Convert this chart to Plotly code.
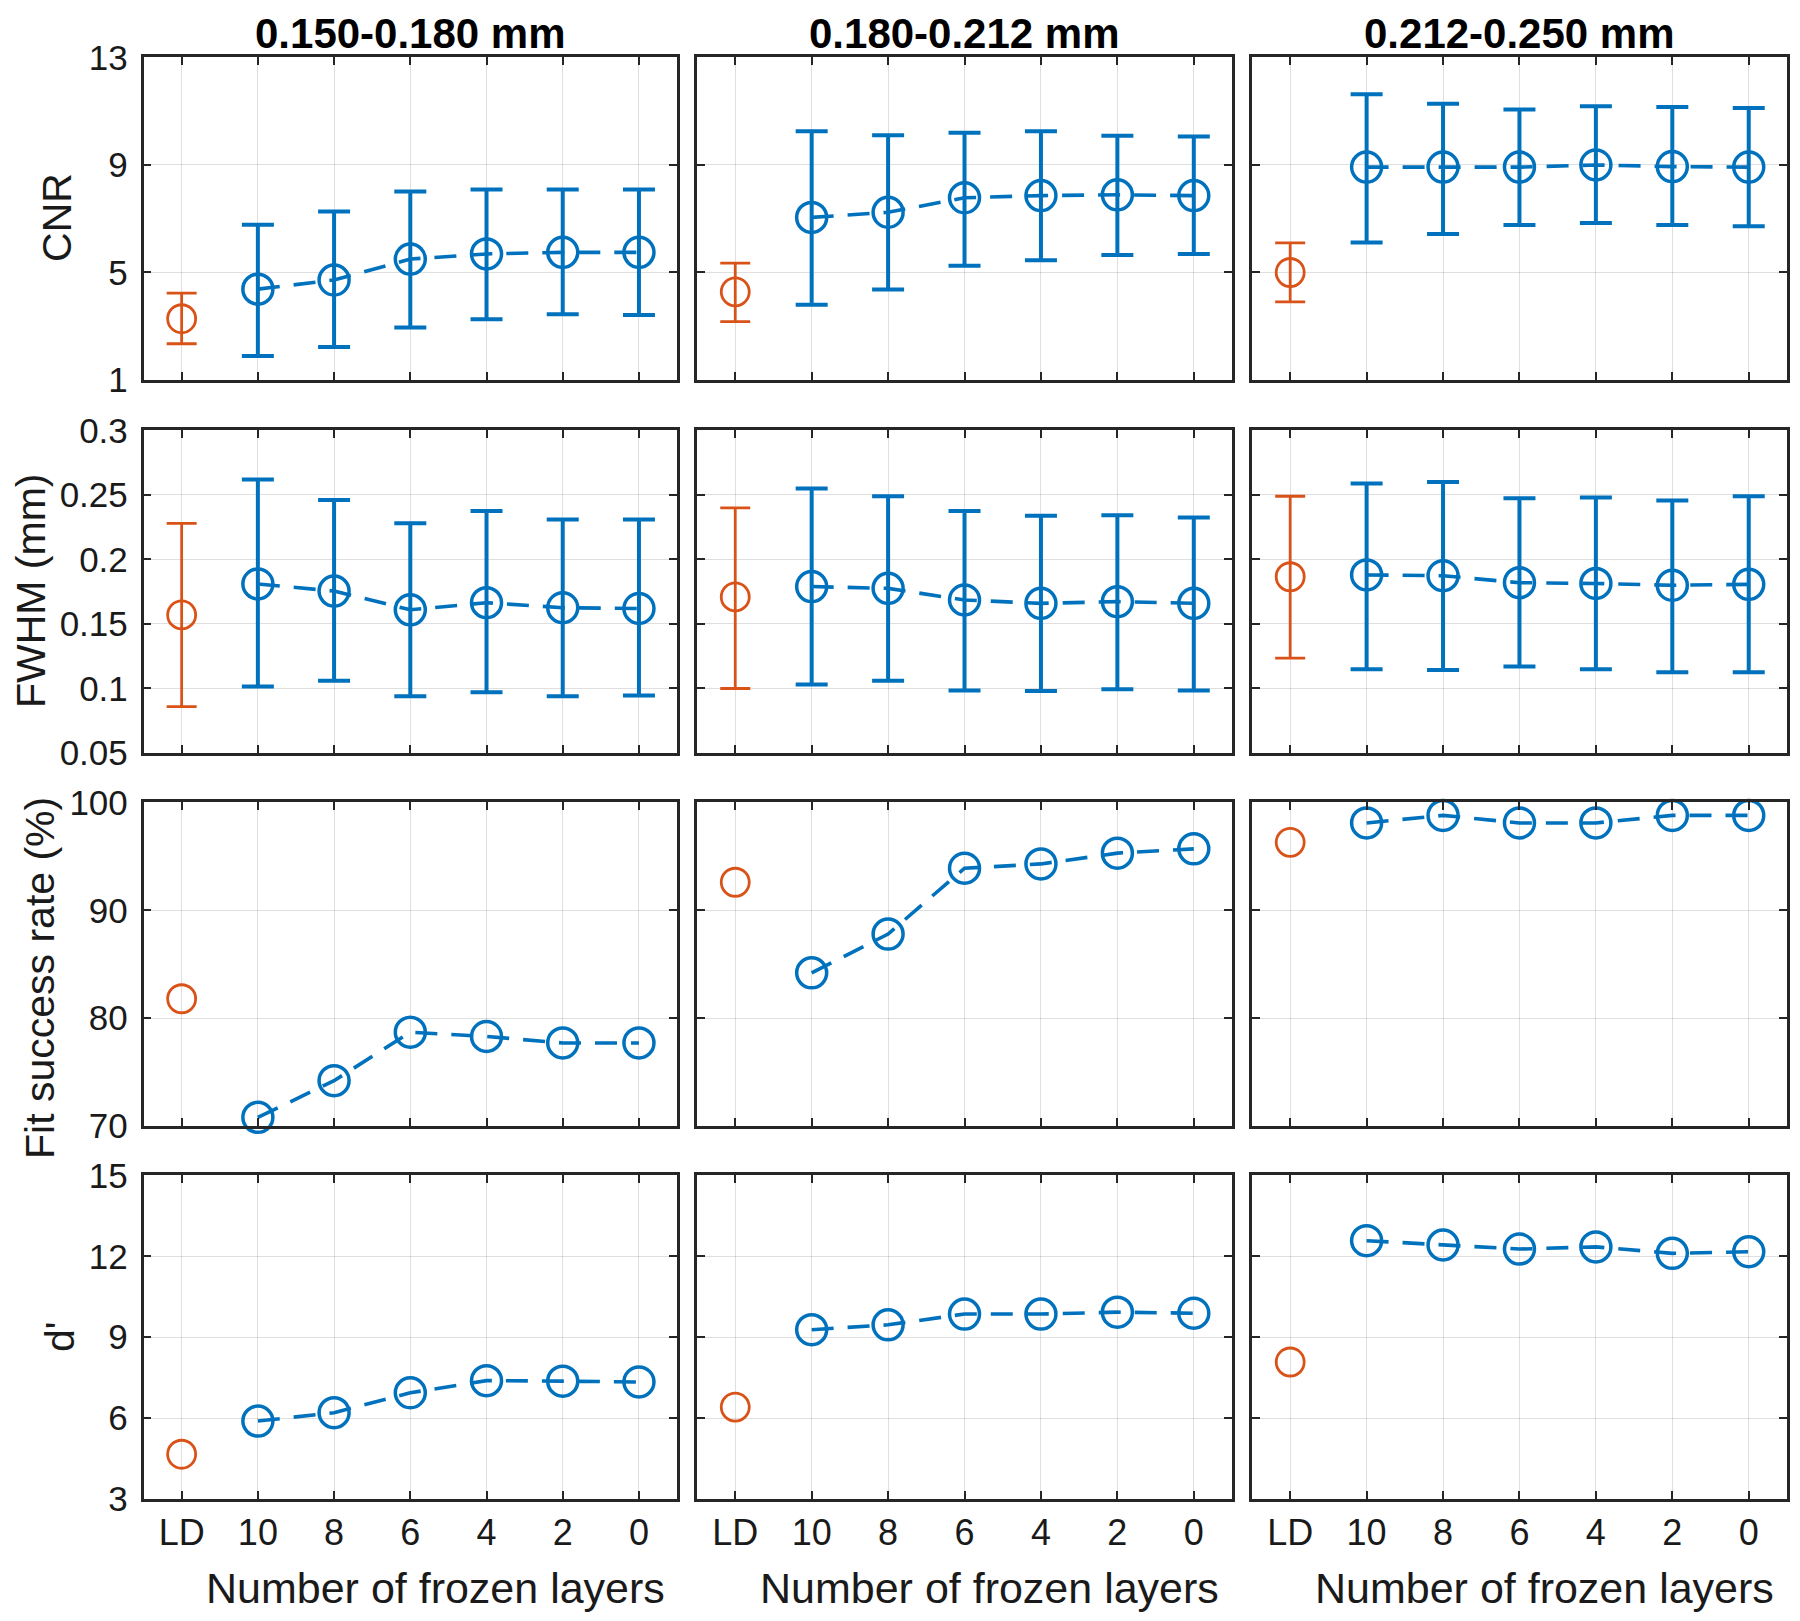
import plotly.graph_objects as go

# ---------------- data ----------------
categories = ["LD", "10", "8", "6", "4", "2", "0"]
col_titles = ["0.150-0.180 mm", "0.180-0.212 mm", "0.212-0.250 mm"]
row_labels = ["CNR", "FWHM (mm)", "Fit success rate (%)", "d'"]

# CNR: mean / upper / lower, per particle-size column (LD first)
cnr_mean_c1 = [3.28, 4.38, 4.72, 5.50, 5.69, 5.75, 5.75]
cnr_hi_c1 = [4.23, 6.78, 7.27, 8.01, 8.09, 8.09, 8.09]
cnr_lo_c1 = [2.35, 1.89, 2.23, 2.95, 3.26, 3.45, 3.42]
cnr_mean_c2 = [4.28, 7.05, 7.24, 7.78, 7.86, 7.89, 7.86]
cnr_hi_c2 = [5.35, 10.25, 10.11, 10.20, 10.25, 10.09, 10.06]
cnr_lo_c2 = [3.17, 3.80, 4.37, 5.25, 5.46, 5.65, 5.69]
cnr_mean_c3 = [5.00, 8.92, 8.92, 8.92, 9.00, 8.94, 8.92]
cnr_hi_c3 = [6.10, 11.63, 11.28, 11.06, 11.18, 11.16, 11.12]
cnr_lo_c3 = [3.91, 6.12, 6.43, 6.77, 6.84, 6.77, 6.72]

# FWHM (mm)
fwhm_mean_c1 = [0.157, 0.181, 0.1755, 0.161, 0.1665, 0.1626, 0.162]
fwhm_hi_c1 = [0.228, 0.262, 0.246, 0.228, 0.2376, 0.231, 0.231]
fwhm_lo_c1 = [0.086, 0.1015, 0.106, 0.094, 0.097, 0.094, 0.0946]
fwhm_mean_c2 = [0.171, 0.179, 0.1776, 0.1686, 0.166, 0.1673, 0.166]
fwhm_hi_c2 = [0.240, 0.255, 0.249, 0.2376, 0.2338, 0.2343, 0.2325]
fwhm_lo_c2 = [0.100, 0.103, 0.106, 0.0985, 0.098, 0.0995, 0.0985]
fwhm_mean_c3 = [0.1866, 0.188, 0.1874, 0.182, 0.1814, 0.180, 0.1807]
fwhm_hi_c3 = [0.249, 0.2588, 0.260, 0.2474, 0.248, 0.2456, 0.249]
fwhm_lo_c3 = [0.1235, 0.115, 0.1144, 0.117, 0.115, 0.1126, 0.1126]

# Fit success rate (%)
fit_c1 = [81.8, 70.8, 74.2, 78.7, 78.3, 77.7, 77.7]
fit_c2 = [92.6, 84.2, 87.8, 93.9, 94.3, 95.3, 95.7]
fit_c3 = [96.3, 98.1, 98.8, 98.1, 98.1, 98.8, 98.8]

# d'
dp_c1 = [4.66, 5.89, 6.20, 6.94, 7.39, 7.37, 7.34]
dp_c2 = [6.41, 9.28, 9.46, 9.86, 9.86, 9.93, 9.89]
dp_c3 = [8.08, 12.58, 12.42, 12.27, 12.35, 12.11, 12.17]

y_ticks = [[1, 5, 9, 13], [0.05, 0.1, 0.15, 0.2, 0.25, 0.3], [70, 80, 90, 100], [3, 6, 9, 12, 15]]
y_ranges = [[1, 13], [0.05, 0.3], [70, 100], [3, 15]]

rows = [
    [(cnr_mean_c1, cnr_hi_c1, cnr_lo_c1), (cnr_mean_c2, cnr_hi_c2, cnr_lo_c2), (cnr_mean_c3, cnr_hi_c3, cnr_lo_c3)],
    [(fwhm_mean_c1, fwhm_hi_c1, fwhm_lo_c1), (fwhm_mean_c2, fwhm_hi_c2, fwhm_lo_c2), (fwhm_mean_c3, fwhm_hi_c3, fwhm_lo_c3)],
    [(fit_c1, None, None), (fit_c2, None, None), (fit_c3, None, None)],
    [(dp_c1, None, None), (dp_c2, None, None), (dp_c3, None, None)],
]

# ---------------- style ----------------
BLUE = "#0072BD"
ORANGE = "#D95319"
FONT = "Liberation Sans, Arial, sans-serif"
AXC = "#262626"
GRID = "rgba(38,38,38,0.15)"

x_domains = [[0.0753, 0.3717], [0.3828, 0.6800], [0.6911, 0.9883]]
y_domains = [[0.7705, 0.9695], [0.5404, 0.7394], [0.3103, 0.5099], [0.0802, 0.2798]]

fig = go.Figure()
layout = dict()

for r in range(4):
    for c in range(3):
        k = r * 3 + c + 1
        xa = "x" if k == 1 else f"x{k}"
        ya = "y" if k == 1 else f"y{k}"
        mean, hi, lo = rows[r][c]

        # blue series (frozen layers)
        err_b = None
        if hi is not None:
            err_b = dict(type="data", symmetric=False,
                         array=[h - m for h, m in zip(hi[1:], mean[1:])],
                         arrayminus=[m - l for m, l in zip(mean[1:], lo[1:])],
                         color=BLUE, thickness=4, width=16)
        fig.add_trace(go.Scatter(
            x=categories[1:], y=mean[1:], xaxis=xa, yaxis=ya, mode="lines+markers",
            line=dict(color=BLUE, width=3.6, dash="22px,14px"),
            marker=dict(symbol="circle-open", size=30, color=BLUE, line=dict(width=3.5, color=BLUE)),
            error_y=err_b, cliponaxis=False, showlegend=False))

        # orange LD point
        err_o = None
        if hi is not None:
            err_o = dict(type="data", symmetric=False,
                         array=[hi[0] - mean[0]], arrayminus=[mean[0] - lo[0]],
                         color=ORANGE, thickness=2.8, width=15)
        fig.add_trace(go.Scatter(
            x=[categories[0]], y=[mean[0]], xaxis=xa, yaxis=ya, mode="markers",
            marker=dict(symbol="circle-open", size=28, color=ORANGE, line=dict(width=2.8, color=ORANGE)),
            error_y=err_o, cliponaxis=False, showlegend=False))

        layout[f"xaxis{'' if k == 1 else k}"] = dict(
            domain=x_domains[c], anchor=ya, type="category",
            categoryorder="array", categoryarray=categories,
            range=[-0.5, 6.5], showgrid=True, gridcolor=GRID, gridwidth=1,
            showline=True, linecolor=AXC, linewidth=2.5, mirror="ticks",
            ticks="inside", ticklen=8, tickwidth=2, tickcolor=AXC,
            showticklabels=(r == 3), tickfont=dict(family=FONT, size=36, color="#1a1a1a"),
            zeroline=False, fixedrange=True, automargin=False)
        layout[f"yaxis{'' if k == 1 else k}"] = dict(
            domain=y_domains[r], anchor=xa, range=y_ranges[r], tickvals=y_ticks[r],
            showgrid=True, gridcolor=GRID, gridwidth=1,
            showline=True, linecolor=AXC, linewidth=2.5, mirror="ticks",
            ticks="inside", ticklen=8, tickwidth=2, tickcolor=AXC,
            showticklabels=(c == 0), tickfont=dict(family=FONT, size=35, color="#1a1a1a"),
            ticklabelstandoff=6, zeroline=False, fixedrange=True, automargin=False)

annotations = []
# column titles
for c, t in enumerate(col_titles):
    annotations.append(dict(text=f"<b>{t}</b>", x=sum(x_domains[c]) / 2, y=1 - 26 / 1621,
                            xref="paper", yref="paper", showarrow=False,
                            xanchor="center", yanchor="middle", borderpad=0,
                            font=dict(family=FONT, size=42, color="#000")))
# x titles
for c in range(3):
    annotations.append(dict(text="Number of frozen layers", x=sum(x_domains[c]) / 2 + 25 / 1800,
                            y=0.0253, xref="paper", yref="paper", showarrow=False,
                            xanchor="center", yanchor="middle", borderpad=0,
                            font=dict(family=FONT, size=43, color="#1a1a1a")))
# y titles
ylab_x = [49, 23, 32, 52]
ylab_y = [0.8705, 0.6403, 0.4016, 0.1801]
for r, t in enumerate(row_labels):
    annotations.append(dict(text=t, x=ylab_x[r] / 1800, y=ylab_y[r],
                            xref="paper", yref="paper", showarrow=False, textangle=-90,
                            xanchor="center", yanchor="middle", borderpad=0,
                            font=dict(family=FONT, size=41, color="#1a1a1a")))

fig.update_layout(**layout)
fig.update_layout(width=1800, height=1621, margin=dict(l=0, r=0, t=0, b=0, pad=0),
                  paper_bgcolor="white", plot_bgcolor="white",
                  annotations=annotations, showlegend=False)

fig.write_html("out.html")
